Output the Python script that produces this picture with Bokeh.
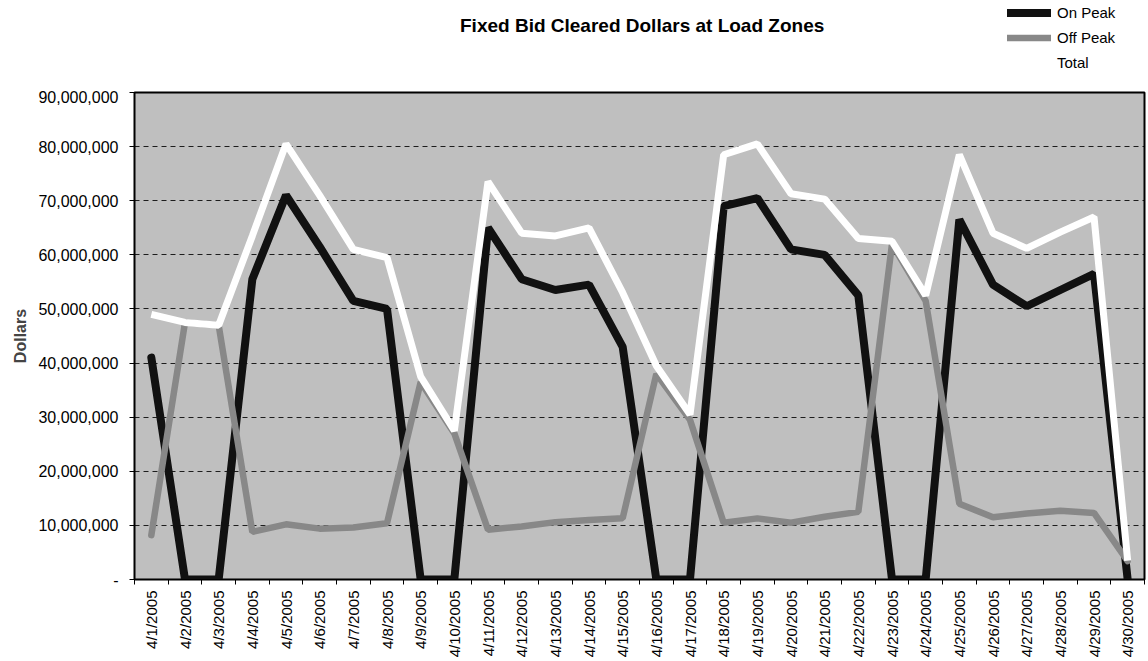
import math
from bokeh.plotting import figure
from bokeh.layouts import column
from bokeh.models import FixedTicker, NumeralTickFormatter, Label, Legend, LegendItem, Range1d
from bokeh.embed import file_html
from bokeh.resources import INLINE

# ---- data (values in millions of dollars) ----
dates = ["4/1/2005", "4/2/2005", "4/3/2005", "4/4/2005", "4/5/2005", "4/6/2005",
         "4/7/2005", "4/8/2005", "4/9/2005", "4/10/2005", "4/11/2005", "4/12/2005",
         "4/13/2005", "4/14/2005", "4/15/2005", "4/16/2005", "4/17/2005", "4/18/2005",
         "4/19/2005", "4/20/2005", "4/21/2005", "4/22/2005", "4/23/2005", "4/24/2005",
         "4/25/2005", "4/26/2005", "4/27/2005", "4/28/2005", "4/29/2005", "4/30/2005"]

on_peak_m = [41, 0, 0, 55.5, 71, 61.5, 51.5, 50, 0, 0,
             65, 55.5, 53.5, 54.5, 43, 0, 0, 69, 70.5, 61,
             60, 52.5, 0, 0, 66.5, 54.5, 50.5, 53.5, 56.5, 0]

off_peak_m = [8.2, 47.5, 47, 8.8, 10.2, 9.4, 9.6, 10.4, 36.5, 27,
              9.2, 9.8, 10.6, 11, 11.3, 38, 29.5, 10.5, 11.3, 10.5,
              11.6, 12.5, 62, 51.5, 14, 11.5, 12.2, 12.7, 12.3, 3.4]

total_m = [49, 47.5, 47, 63.5, 80.5, 71, 61, 59.5, 37.5, 27.5,
           73.5, 64, 63.5, 65, 53, 39.5, 30.5, 78.5, 80.5, 71.3,
           70.3, 63, 62.5, 52.5, 78.5, 64, 61.2, 64.2, 67, 3.5]

y_ticks = [0, 10000000, 20000000, 30000000, 40000000, 50000000,
           60000000, 70000000, 80000000, 90000000]

title_text = "Fixed Bid Cleared Dollars at Load Zones"
series_names = ["On Peak", "Off Peak", "Total"]
y_label = "Dollars"

MILLION = 1_000_000
idx = list(range(1, len(dates) + 1))
on_peak = [v * MILLION for v in on_peak_m]
off_peak = [v * MILLION for v in off_peak_m]
total = [v * MILLION for v in total_m]

FONT = "Liberation Sans"
W = 1148
HDR_H = 90
MAIN_H = 571

ON_STYLE = dict(line_color="#111111", line_width=8, line_cap="round")
OFF_STYLE = dict(line_color="#888888", line_width=6.5, line_cap="round")
TOT_STYLE = dict(line_color="white", line_width=7)

# ---------------- header (title + legend) ----------------
hdr = figure(width=W, height=HDR_H, x_range=Range1d(0, W), y_range=Range1d(HDR_H, 0),
             x_axis_type=None, y_axis_type=None,
             output_backend="svg", toolbar_location=None,
             min_border=0, min_border_left=0, min_border_right=0,
             min_border_top=0, min_border_bottom=0)
hdr.outline_line_color = None
hdr.background_fill_color = "white"
hdr.border_fill_color = "white"

# legend-only renderers (no visible points: NaN data)
nan = float("nan")
h_on = hdr.line([nan], [nan], **ON_STYLE)
h_off = hdr.line([nan], [nan], **OFF_STYLE)
h_tot = hdr.line([nan], [nan], **TOT_STYLE)

legend = Legend(items=[LegendItem(label=series_names[0], renderers=[h_on]),
                       LegendItem(label=series_names[1], renderers=[h_off]),
                       LegendItem(label=series_names[2], renderers=[h_tot])],
                location="top_right", orientation="vertical",
                glyph_width=44, glyph_height=25, label_height=25, label_width=87,
                spacing=0, padding=0, margin=0, label_standoff=6,
                border_line_color=None, background_fill_alpha=0,
                label_text_font=FONT, label_text_font_size="15px",
                label_text_color="black")
hdr.add_layout(legend)

hdr.add_layout(Label(x=577, y=25, text=title_text, text_font=FONT,
                     text_font_style="bold", text_font_size="19px",
                     text_align="center", text_baseline="middle",
                     text_color="black"))

# ---------------- main chart ----------------
p = figure(width=W, height=MAIN_H,
           x_range=Range1d(0.5, len(dates) + 0.5),
           y_range=Range1d(y_ticks[0], y_ticks[-1]),
           output_backend="svg", toolbar_location=None,
           min_border_left=134, min_border_right=4,
           min_border_top=2, min_border_bottom=82)

p.background_fill_color = "#bfbfbf"
p.border_fill_color = "white"
p.outline_line_color = "black"
p.outline_line_width = 2

p.xgrid.visible = False
p.ygrid.ticker = FixedTicker(ticks=y_ticks)
p.ygrid.grid_line_color = "black"
p.ygrid.grid_line_dash = "5 4"
p.ygrid.grid_line_width = 1
p.ygrid.grid_line_alpha = 0.85

yax = p.yaxis[0]
yax.ticker = FixedTicker(ticks=y_ticks)
yax.formatter = NumeralTickFormatter(format="0,0")
yax.major_label_overrides = {0: "-"}
yax.major_label_text_font = FONT
yax.major_label_text_font_size = "16px"
yax.major_label_text_color = "black"
yax.major_tick_out = 5
yax.major_tick_in = 0
yax.minor_tick_out = 0
yax.minor_tick_in = 0
yax.major_label_standoff = 11
yax.axis_line_color = "black"
yax.axis_label = y_label
yax.axis_label_text_font = FONT
yax.axis_label_text_font_style = "bold"
yax.axis_label_text_font_size = "16px"
yax.axis_label_standoff = 6

xax = p.xaxis[0]
xax.ticker = FixedTicker(ticks=idx, minor_ticks=[i - 0.5 for i in idx] + [idx[-1] + 0.5])
xax.major_label_overrides = {i: d for i, d in zip(idx, dates)}
xax.major_label_orientation = math.pi / 2
xax.major_label_text_font = FONT
xax.major_label_text_font_size = "15px"
xax.major_label_text_color = "black"
xax.major_tick_out = 0
xax.major_tick_in = 0
xax.minor_tick_out = 5
xax.minor_tick_in = 0
xax.minor_tick_line_color = "black"
xax.major_label_standoff = 6
xax.axis_line_color = "black"

p.line(idx, on_peak, **ON_STYLE)
p.line(idx, off_peak, **OFF_STYLE)
p.line(idx, total, **TOT_STYLE)

layout = column(hdr, p, spacing=0)
open("out.html", "w").write(file_html(layout, INLINE))
